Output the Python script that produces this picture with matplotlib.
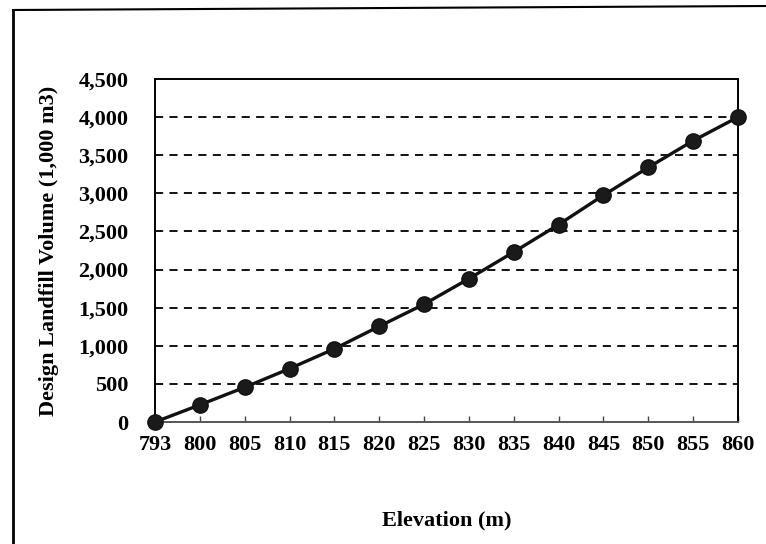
import matplotlib
matplotlib.use("Agg")
import matplotlib.pyplot as plt
from matplotlib.lines import Line2D

elevations = ["793", "800", "805", "810", "815", "820", "825",
              "830", "835", "840", "845", "850", "855", "860"]
volumes = [0, 225, 455, 700, 960, 1255, 1545, 1880, 2230, 2590,
           2975, 3340, 3690, 4000]
y_ticks = [0, 500, 1000, 1500, 2000, 2500, 3000, 3500, 4000, 4500]

plt.rcParams['font.family'] = ['Liberation Serif', 'DejaVu Serif']

fig = plt.figure(figsize=(7.66, 5.44), dpi=100)
ax = fig.add_axes([155/766, 1 - 422/544, (738 - 155)/766, (422 - 79)/544])

x = list(range(len(elevations)))
ax.plot(x, volumes, color='#111111', lw=2.4, marker='o', markersize=11,
        markerfacecolor='#1a1a1a', markeredgecolor='#111111', zorder=3,
        clip_on=False)

ax.set_xlim(0, len(elevations) - 1)
ax.set_ylim(0, 4500)
ax.set_yticks(y_ticks)
ax.set_yticklabels([f"{v:,}" for v in y_ticks], fontweight='bold')
ax.set_xticks(x)
ax.set_xticklabels(elevations, fontweight='bold')

for v in y_ticks[1:-1]:
    ax.axhline(v, color='black', lw=1.3, ls=(0, (4.5, 3.5)), zorder=1)

ax.tick_params(axis='y', length=0, pad=19, labelsize=16)
ax.tick_params(axis='x', direction='in', length=4, width=1, pad=9,
               labelsize=16, color='#444444')

for side in ['left', 'right', 'top']:
    ax.spines[side].set_linewidth(1.4)
    ax.spines[side].set_color('black')
ax.spines['bottom'].set_linewidth(1.4)
ax.spines['bottom'].set_color('#555555')

ax.set_ylabel("Design Landfill Volume (1,000 m3)", fontsize=16,
              fontweight='bold', labelpad=14)
ax.set_xlabel("Elevation (m)", fontsize=16, fontweight='bold', labelpad=40)

# outer frame of the scanned figure (top and left edges only)
fig.add_artist(Line2D([13/766, 13/766], [0, 1 - 10/544], color='black', lw=2))
fig.add_artist(Line2D([13/766, 1], [1 - 10/544, 1 - 6/544], color='black', lw=1.5))

fig.savefig("out.png", dpi=100)
